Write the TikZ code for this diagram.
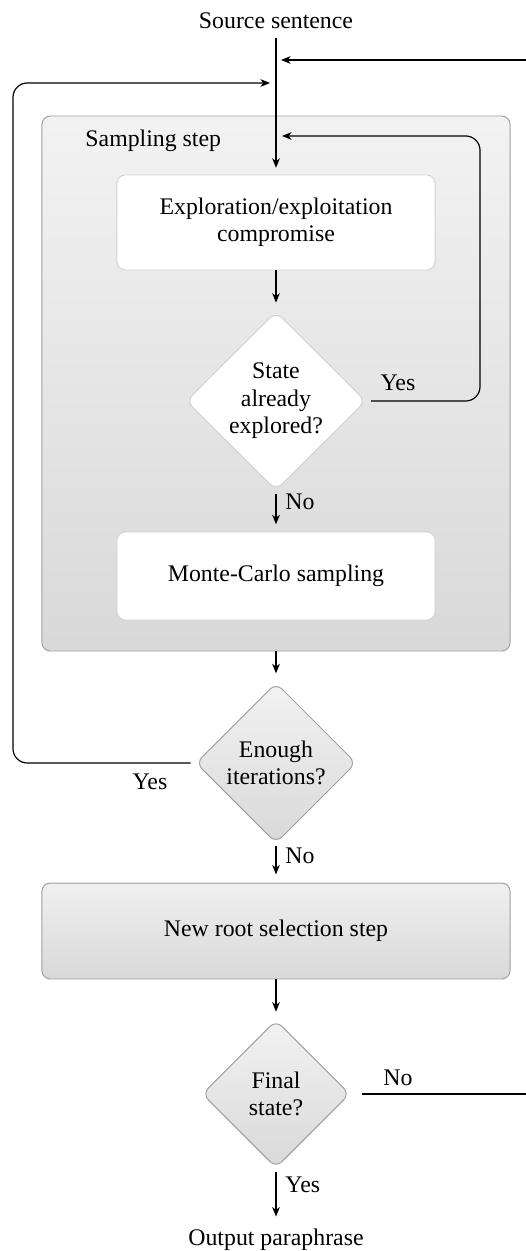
\documentclass[tikz,border=0pt]{standalone}
\usepackage{fontspec}
\setmainfont{Liberation Serif}
\usetikzlibrary{shapes.geometric,arrows.meta}
\begin{document}
\begin{tikzpicture}[x=0.42pt,y=-0.42pt,
  font=\fontsize{10}{11.5}\selectfont,
  arr/.style={-{Stealth[length=4pt,width=3.2pt,inset=1.2pt]},line width=0.5pt},
  ln/.style={line width=0.5pt},
  group/.style={draw=gray!75,line width=0.4pt,rounded corners=3.5pt,top color=gray!10,bottom color=gray!30},
  inner/.style={draw=gray!35,line width=0.4pt,fill=white,rounded corners=3.5pt,align=center},
  gbox/.style={draw=gray!75,line width=0.4pt,rounded corners=3.5pt,top color=gray!12,bottom color=gray!30,align=center},
  dec/.style={diamond,aspect=1,inner sep=0pt,rounded corners=3.5pt,align=center,line width=0.4pt},
  lbl/.style={inner sep=0pt,anchor=west}
]
\useasboundingbox (0,0) rectangle (526,1251);
% sampling group
\node[group,minimum width=196.6pt,minimum height=224.7pt] (grp) at (276,383.5) {};
\node[anchor=west,inner sep=0pt] (grplbl) at (85,141) {Sampling step};
% nodes
\node[inner sep=0pt,anchor=base] (src) at (276,29) {Source sentence};
\node[inner,minimum width=133.6pt,minimum height=39.9pt] (expl) at (276,222.5) {Exploration/exploitation\\compromise};
\node[dec,draw=gray!35,fill=white,minimum width=75.5pt,minimum height=75pt] (d1) at (276,401) {State\\already\\explored?};
\node[inner,minimum width=133.6pt,minimum height=37pt] (mc) at (276,576) {Monte-Carlo sampling};
\node[dec,draw=gray!75,top color=gray!10,bottom color=gray!30,minimum width=67.3pt,minimum height=67.3pt] (d2) at (276,763) {Enough\\iterations?};
\node[gbox,minimum width=196.6pt,minimum height=40.3pt] (root) at (276,931) {New root selection step};
\node[dec,draw=gray!75,top color=gray!10,bottom color=gray!30,minimum width=62pt,minimum height=62pt] (d3) at (276,1094) {Final\\state?};
\node[inner sep=0pt,anchor=base] (out) at (276,1245) {Output paraphrase};
% coordinates
\coordinate (rin) at (526,60);
\coordinate (rtip) at (281,60);
\coordinate (ltip) at (270,83);
\coordinate (itip) at (282,136);
\coordinate (nend) at (526,1094);
% connectors
\draw[arr,shorten <=3.4pt,shorten >=2.8pt] (src.south) -- (expl.north);
\draw[arr] (rin) -- (rtip);
\draw[arr,rounded corners=6pt,shorten <=2pt] (d2.west) -- (13,763) -- (13,83) -- (ltip);
\draw[arr,rounded corners=6pt,shorten <=2pt] (d1.east) -- (480,401) -- (480,136) -- (itip);
\draw[arr,shorten >=3.6pt] (expl.south) -- (d1.north);
\draw[arr,shorten <=1.2pt,shorten >=3pt] (d1.south) -- (mc.north);
\draw[arr,shorten >=3.8pt] (grp.south) -- (d2.north);
\draw[arr,shorten <=1pt,shorten >=3.4pt] (d2.south) -- (root.north);
\draw[arr,shorten >=3.4pt] (root.south) -- (d3.north);
\draw[ln,shorten <=5pt] (d3.east) -- (nend);
\draw[arr,shorten <=1.5pt,shorten >=4.8pt] (d3.south) -- (out.north);
% labels
\node[lbl] (n1) at (285,502) {No};
\node[lbl] (n2) at (285,856) {No};
\node[lbl] (y3) at (285,1185) {Yes};
\node[inner sep=0pt] (y1) at (398,383) {Yes};
\node[inner sep=0pt] (y2) at (150,782) {Yes};
\node[inner sep=0pt] (n3) at (398,1078) {No};
\end{tikzpicture}
\end{document}
